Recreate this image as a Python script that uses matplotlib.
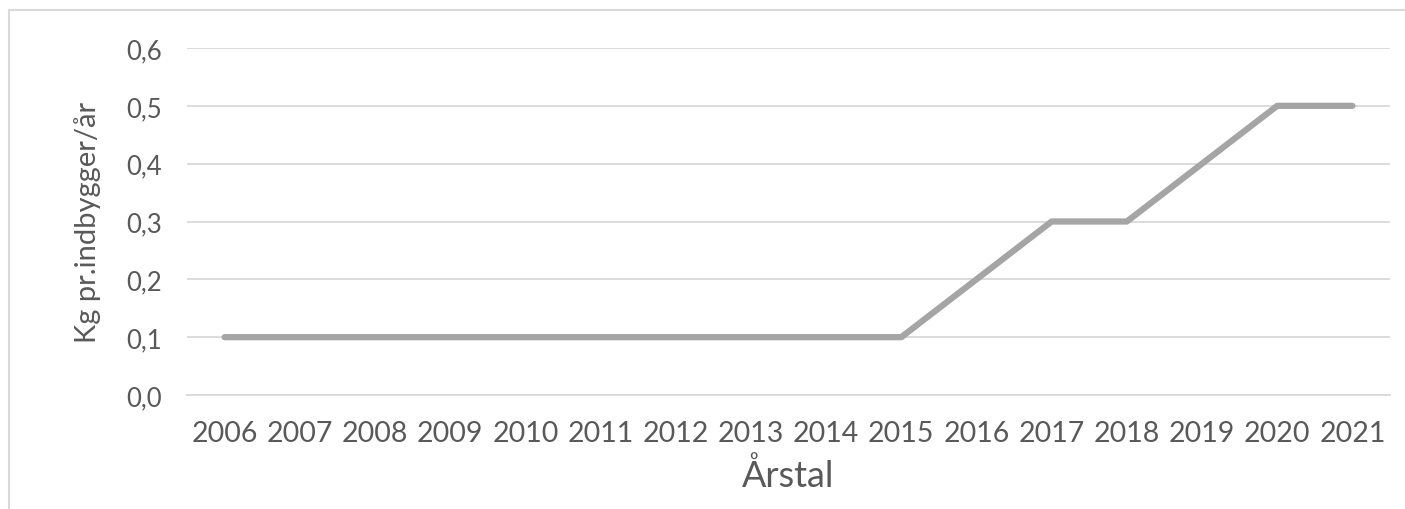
import matplotlib.pyplot as plt
from matplotlib.patches import Rectangle

years = [str(y) for y in range(2006, 2022)]
values = [0.1, 0.1, 0.1, 0.1, 0.1, 0.1, 0.1, 0.1, 0.1, 0.1,
          0.2, 0.3, 0.3, 0.4, 0.5, 0.5]
yticks = [0.0, 0.1, 0.2, 0.3, 0.4, 0.5, 0.6]

plt.rcParams['font.family'] = ['Lato', 'DejaVu Sans']

fig = plt.figure(figsize=(14.05, 5.10), dpi=100)
ax = fig.add_axes([187 / 1405, 1 - 396 / 510, (1390 - 187) / 1405, (396 - 49) / 510])

# chart area border (cut off at right and bottom)
fig.patches.append(Rectangle((9 / 1405, -0.5), 2, 0.5 + (510 - 11) / 510,
                             transform=fig.transFigure, fill=False,
                             edgecolor='#D9D9D9', lw=1.5))

x = list(range(len(years)))
ax.plot(x, values, color='#A5A5A5', lw=4.5, solid_capstyle='round',
        solid_joinstyle='round', zorder=3)

ax.set_xlim(-0.5, len(years) - 0.5)
ax.set_ylim(0, 0.6)
ax.set_yticks(yticks)
ax.set_yticklabels([f'{v:.1f}'.replace('.', ',') for v in yticks])
ax.set_xticks(x)
ax.set_xticklabels(years)
ax.grid(axis='y', color='#D9D9D9', lw=1.3)
ax.set_axisbelow(True)
for s in ['top', 'right', 'left']:
    ax.spines[s].set_visible(False)
ax.spines['bottom'].set_color('#D9D9D9')
ax.spines['bottom'].set_linewidth(1.3)
ax.tick_params(length=0, colors='#595959')
ax.tick_params(axis='x', labelsize=20.5, pad=18)
ax.tick_params(axis='y', labelsize=18.5, pad=18)

ax.set_xlabel('Årstal', fontsize=26, color='#595959', labelpad=8)
ax.set_ylabel('Kg pr.indbygger/år', fontsize=21, color='#595959', labelpad=18)

fig.savefig('out.png', dpi=100)
